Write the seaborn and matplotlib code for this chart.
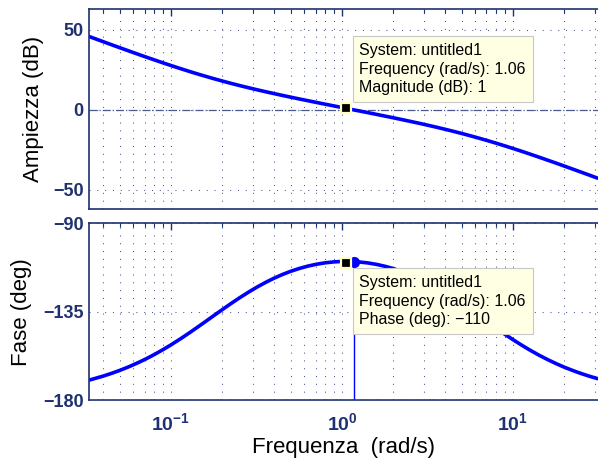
import numpy as np
import matplotlib
matplotlib.use("Agg")
import matplotlib.pyplot as plt
from matplotlib.ticker import NullFormatter, LogLocator
import seaborn as sns

# Bode data (rad/s, dB, deg)
freq = [0.0333, 0.04, 0.045, 0.05, 0.057, 0.065, 0.072, 0.08, 0.09, 0.1,
        0.115, 0.13, 0.145, 0.16, 0.18, 0.2, 0.225, 0.25, 0.285, 0.32, 0.36,
        0.4, 0.45, 0.5, 0.56, 0.63, 0.71, 0.8, 0.9, 1.0, 1.06, 1.12, 1.17,
        1.26, 1.42, 1.6, 1.8, 2.0, 2.25, 2.5, 2.85, 3.2, 3.6, 4.0, 4.5, 5.0,
        5.6, 6.3, 7.1, 8.0, 9, 10, 11.2, 12.6, 14.2, 16, 18, 20, 22.5, 25,
        28, 31.2]
mag_db = [45.86, 42.74, 40.74, 38.97, 36.79, 34.62, 32.96, 31.27, 29.41,
          27.78, 25.67, 23.87, 22.32, 20.98, 19.41, 18.06, 16.60, 15.35,
          13.86, 12.58, 11.34, 10.25, 9.06, 8.03, 6.93, 5.82, 4.69, 3.58,
          2.50, 1.53, 1.00, 0.49, 0.06, -0.59, -1.69, -2.80, -3.91, -4.91,
          -6.05, -7.09, -8.40, -9.61, -10.87, -12.04, -13.39, -14.65, -16.05,
          -17.56, -19.16, -20.81, -22.50, -24.06, -25.77, -27.60, -29.50,
          -31.42, -33.34, -35.09, -37.06, -38.83, -40.74, -42.59]
phase_deg = [-169.83, -167.84, -166.38, -164.94, -162.96, -160.74, -158.87,
             -156.78, -154.26, -151.87, -148.49, -145.36, -142.48, -139.85,
             -136.66, -133.84, -130.74, -128.06, -124.91, -122.31, -119.89,
             -117.92, -115.95, -114.41, -112.98, -111.75, -110.76, -110.03,
             -109.57, -109.36, -109.34, -109.37, -109.44, -109.62, -110.12,
             -110.89, -111.90, -113.02, -114.52, -116.08, -118.30, -120.52,
             -123.00, -125.41, -128.26, -130.94, -133.93, -137.10, -140.32,
             -143.51, -146.59, -149.23, -151.95, -154.62, -157.14, -159.46,
             -161.57, -163.30, -165.05, -166.48, -167.88, -169.09]

# data tip and phase-margin marker
tip_system = "untitled1"
tip_freq = 1.06
tip_mag = 1
tip_phase = -110
pm_freq = 1.17
pm_phase = -109.44

mag_ticks = [-50, 0, 50]
phase_ticks = [-180, -135, -90]
decades = [0.1, 1, 10]

sns.set_theme(style="white")
plt.rcParams['font.family'] = ['Liberation Sans', 'DejaVu Sans']
plt.rcParams['mathtext.fontset'] = 'custom'
plt.rcParams['mathtext.rm'] = 'Liberation Sans'
plt.rcParams['mathtext.bf'] = 'Liberation Sans:bold'

navy = '#1e3170'
grid_col = '#4a5890'
curve_col = '#0000ff'
dots = (0, (1, 6.5))

fig = plt.figure(figsize=(5.98, 4.61), dpi=100)
ax_mag = fig.add_axes([0.1493, 0.5473, 0.8515, 0.4321])
ax_ph = fig.add_axes([0.1493, 0.1323, 0.8515, 0.3829])

sns.lineplot(x=freq, y=mag_db, ax=ax_mag, color=curve_col, linewidth=2.6,
             zorder=2, solid_joinstyle='round')
sns.lineplot(x=freq, y=phase_deg, ax=ax_ph, color=curve_col, linewidth=2.6,
             zorder=2, solid_joinstyle='round')

# margin reference lines
ax_mag.axhline(0, color='#4a5a8e', linestyle='-.', linewidth=0.9, zorder=1)
ax_ph.axhline(-180, color='#8a96b8', linestyle='-.', linewidth=0.9, zorder=3)

# phase margin marker
ax_ph.vlines(pm_freq, -180, pm_phase, color=curve_col, linewidth=1.0, zorder=2)
ax_ph.plot([pm_freq], [pm_phase], marker='o', markersize=7, color=curve_col, zorder=4)

tip_box = dict(boxstyle='square,pad=0.42', facecolor='#ffffe4',
               edgecolor='#c8c8c8', linewidth=0.8)

for ax, yval, label, ypos, va in [
        (ax_mag, tip_mag, "Magnitude (dB): %g" % tip_mag, 13, 'bottom'),
        (ax_ph, tip_phase, "Phase (deg): %s" % str(tip_phase).replace('-', '\u2212'), -12, 'top')]:
    ax.plot([tip_freq], [yval], marker='s', markersize=7, color='black',
            markeredgecolor='#ffffc0', markeredgewidth=1.6, zorder=5)
    txt = "System: %s\nFrequency (rad/s): %.2f\n%s" % (tip_system, tip_freq, label)
    ax.annotate(txt, xy=(tip_freq, yval), xytext=(13, ypos), textcoords='offset pixels',
                ha='left', va=va, fontsize=11.5, color='black', bbox=tip_box,
                linespacing=1.32, zorder=6)

for ax in (ax_mag, ax_ph):
    ax.set_xscale('log')
    ax.set_xlim(10 ** -1.478, 10 ** 1.5)
    ax.xaxis.set_minor_locator(LogLocator(base=10, subs=np.arange(2, 10)))
    ax.xaxis.set_minor_formatter(NullFormatter())
    ax.grid(True, which='both', axis='x', color=grid_col, linestyle=dots, linewidth=0.75)
    ax.grid(True, which='major', axis='y', color=grid_col, linestyle=dots, linewidth=0.75)
    ax.tick_params(which='both', direction='in', top=True, right=False,
                   color=navy, labelcolor=navy)
    ax.tick_params(which='major', length=5, width=1.0)
    ax.tick_params(which='minor', length=3, width=0.8)
    for side in ('left', 'top', 'bottom'):
        ax.spines[side].set_color(navy)
        ax.spines[side].set_linewidth(1.2)
    ax.spines['right'].set_visible(False)
    ax.set_facecolor('white')

ax_mag.set_ylim(-61.7, 62.8)
ax_mag.set_yticks(mag_ticks, labels=[str(v).replace('-', '\u2212') for v in mag_ticks],
                  fontsize=13, fontweight='bold')
ax_mag.set_xticks(decades, labels=['' for _ in decades])
ax_mag.tick_params(axis='y', pad=4)

ax_ph.set_ylim(-180, -90)
ax_ph.set_yticks(phase_ticks, labels=[str(v).replace('-', '\u2212') for v in phase_ticks],
                 fontsize=13, fontweight='bold')
ax_ph.set_xticks(decades, labels=[r'$\mathbf{10^{%d}}$' % round(np.log10(d)) for d in decades],
                 fontsize=14)
ax_ph.tick_params(axis='y', pad=4)
ax_ph.tick_params(axis='x', pad=9)

ax_mag.set_ylabel("Ampiezza (dB)", fontsize=16, color='black')
ax_ph.set_ylabel("Fase (deg)", fontsize=16, color='black')
ax_ph.set_xlabel("Frequenza  (rad/s)", fontsize=16, color='black', labelpad=2)
ax_mag.yaxis.set_label_coords(-0.088, 0.5)
ax_ph.yaxis.set_label_coords(-0.112, 0.5)

fig.savefig("out.png", dpi=100, facecolor='white')
plt.close(fig)
